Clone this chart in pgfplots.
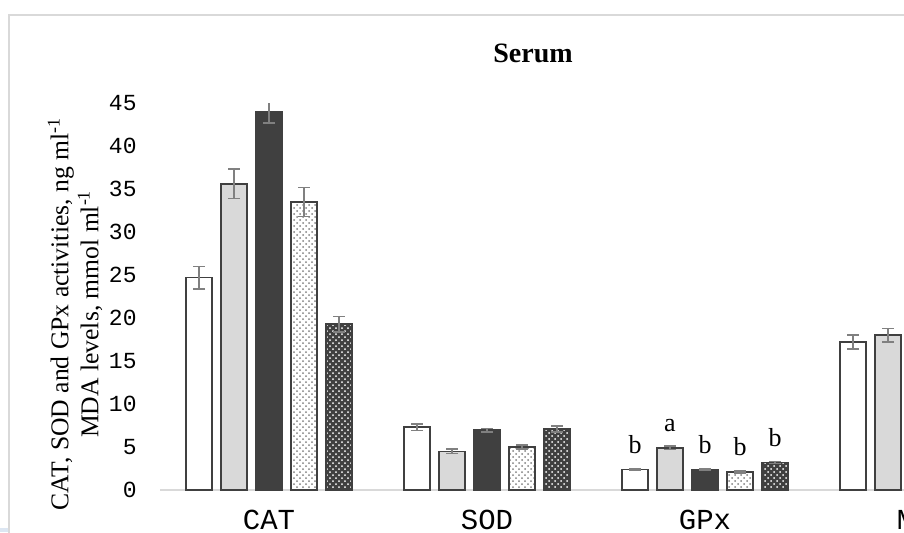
\documentclass[border=0pt]{standalone}
\usepackage{fontspec}
\setmainfont{Liberation Serif}
\newfontfamily\monofont{Liberation Mono}
\usepackage{pgfplots}
\pgfplotsset{compat=1.18}
\usetikzlibrary{patterns}
\definecolor{barline}{HTML}{404040}
\definecolor{lgray}{HTML}{D9D9D9}
\definecolor{dgray}{HTML}{404040}
\definecolor{errc}{HTML}{808080}
\definecolor{framec}{HTML}{D9D9D9}
\definecolor{bluish}{HTML}{DCE6F2}
\begin{document}
\begin{tikzpicture}
\useasboundingbox (0,0) rectangle (452pt,266pt);
\clip (0,0) rectangle (452pt,266pt);
\fill[white] (0,0) rectangle (452pt,266pt);
\draw[framec, line width=0.75pt] (4.5pt,-10pt) rectangle (528.5pt,258.5pt);
\fill[bluish] (0,0) rectangle (4pt,2pt);
\begin{axis}[
  at={(80pt,21pt)}, anchor=south west, scale only axis,
  width=436pt, height=193.5pt,
  ybar, bar width=13pt,
  xmin=-0.5, xmax=3.5, ymin=0, ymax=45,
  xtick={0,1,2,3}, xticklabels={CAT,SOD,GPx,MDA},
  ytick={0,5,...,45},
  axis lines*=left,
  x axis line style={draw=lgray, line width=0.75pt},
  y axis line style={draw=none},
  major tick length=0pt,
  /pgf/number format/assume math mode=true,
  yticklabel style={font=\monofont\fontsize{11.5}{13}\selectfont, anchor=east, inner sep=0pt, xshift=-11.5pt},
  xticklabel style={font=\monofont\fontsize{14.5}{16}\selectfont, anchor=base, yshift=-19.5pt},
  title={Serum},
  title style={font=\fontsize{14}{16}\selectfont\bfseries, at={(axis description cs:0.4278,1.129)}, anchor=center, yshift=-6pt},
  ylabel={CAT, SOD and GPx activities, ng ml\textsuperscript{-1}\\MDA levels, mmol ml\textsuperscript{-1}},
  ylabel style={font=\fontsize{12.8}{15}\selectfont, align=center, at={(axis description cs:-0.0975,0.455)}, anchor=center},
  every axis plot/.append style={draw=barline, line width=0.75pt,
    error bars/y dir=both, error bars/y explicit,
    error bars/error bar style={draw=errc, line width=0.75pt},
    error bars/error mark options={rotate=90, draw=errc, mark size=3pt, line width=0.75pt}},
]
\addplot[fill=white, bar shift=-35pt] coordinates {
  (0,24.7) +- (0,1.3)
  (1,7.3)  +- (0,0.4)
  (2,2.4)  +- (0,0.1)
  (3,17.2) +- (0,0.8)
};
\addplot[fill=lgray, bar shift=-17.5pt] coordinates {
  (0,35.6) +- (0,1.7)
  (1,4.5)  +- (0,0.25)
  (2,4.9)  +- (0,0.2)
  (3,18.0) +- (0,0.8)
};
\addplot[fill=dgray, bar shift=0pt] coordinates {
  (0,44.0) +- (0,1.3)
  (1,6.95) +- (0,0.2)
  (2,2.4)  +- (0,0.1)
};
\addplot[fill=white, bar shift=17.5pt, postaction={pattern=crosshatch dots, pattern color=gray}] coordinates {
  (0,33.5) +- (0,1.7)
  (1,5.0)  +- (0,0.25)
  (2,2.1)  +- (0,0.1)
};
\addplot[fill=dgray, bar shift=35pt, postaction={pattern=crosshatch dots, pattern color=white}] coordinates {
  (0,19.3) +- (0,0.9)
  (1,7.1)  +- (0,0.35)
  (2,3.2)  +- (0,0.1)
};
\node[font=\fontsize{13}{15}\selectfont, anchor=base, xshift=-35pt, yshift=8pt] at (axis cs:2,2.4) {b};
\node[font=\fontsize{13}{15}\selectfont, anchor=base, xshift=-17.5pt, yshift=8pt] at (axis cs:2,4.9) {a};
\node[font=\fontsize{13}{15}\selectfont, anchor=base, xshift=0pt, yshift=8pt] at (axis cs:2,2.4) {b};
\node[font=\fontsize{13}{15}\selectfont, anchor=base, xshift=17.5pt, yshift=8pt] at (axis cs:2,2.1) {b};
\node[font=\fontsize{13}{15}\selectfont, anchor=base, xshift=35pt, yshift=8pt] at (axis cs:2,3.2) {b};
\end{axis}
\end{tikzpicture}
\end{document}
